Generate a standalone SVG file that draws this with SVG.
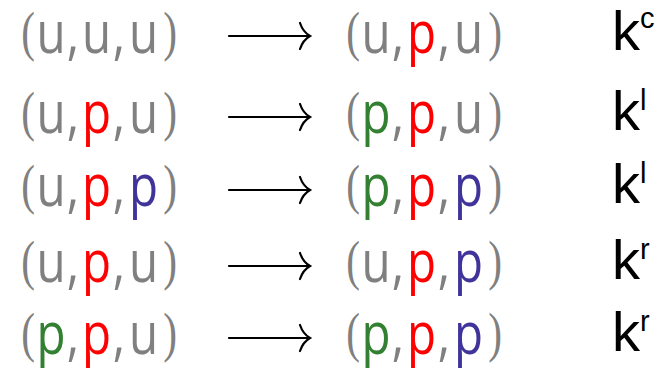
<svg xmlns="http://www.w3.org/2000/svg" width="662" height="368" viewBox="0 0 662 368">
<style>
.g{font-family:"Open Sans","DejaVu Sans",sans-serif;font-size:58px;text-anchor:middle}
.pr{font-family:"Liberation Serif","Times New Roman",serif;font-size:55px;text-anchor:middle;fill:#808080}
.u{fill:#808080}.c{fill:#808080}.pg{fill:#338033}.pr2{fill:#ff0000}.pb{fill:#403399}
.k{font-family:"Liberation Sans",Arial,sans-serif;font-size:56px;fill:#000}
.s{font-size:29px}
.arr{fill:none;stroke:#000;stroke-width:2.2;stroke-linecap:round}
</style>
<defs>
<g id="lp"><text class="pr" transform="scale(.75 1)" x="0" y="-3">(</text></g>
<g id="rp"><text class="pr" transform="scale(.75 1)" x="0" y="-3">)</text></g>
<g id="cm"><text class="g c" transform="scale(.82 1)" x="0" y="0">,</text></g>
<g id="U"><text class="g u" transform="scale(.82 1)" x="0" y="0">u</text></g>
<g id="P1"><text class="g pg" transform="scale(.82 1)" x="0" y="0">p</text></g>
<g id="P2"><text class="g pr2" transform="scale(.82 1)" x="0" y="0">p</text></g>
<g id="P3"><text class="g pb" transform="scale(.82 1)" x="0" y="0">p</text></g>
<path id="ar" class="arr" d="M229,0 H309 M300,-13 Q303,-4 310,0 Q303,4 300,13"/>
</defs>
<g id="connectors">
<use href="#ar" y="36"/>
<use href="#ar" y="117"/>
<use href="#ar" y="190"/>
<use href="#ar" y="266"/>
<use href="#ar" y="338"/>
</g>
<!-- row 1 -->
<g id="r1-left" transform="translate(0 53)">
<use href="#lp" x="28"/><use href="#U" x="51"/><use href="#cm" x="73"/><use href="#U" x="96.5"/><use href="#cm" x="119"/><use href="#U" x="143.5"/><use href="#rp" x="170"/>
</g>
<g id="r1-right" transform="translate(325 53)">
<use href="#lp" x="28"/><use href="#U" x="51"/><use href="#cm" x="73"/><use href="#P2" x="96.5"/><use href="#cm" x="119"/><use href="#U" x="143.5"/><use href="#rp" x="170"/>
</g>
<g id="r1-rate"><text class="k" x="612" y="50">k<tspan class="s" dy="-22">c</tspan></text></g>
<!-- row 2 -->
<g id="r2-left" transform="translate(0 133)">
<use href="#lp" x="28"/><use href="#U" x="51"/><use href="#cm" x="73"/><use href="#P2" x="96.5"/><use href="#cm" x="119"/><use href="#U" x="143.5"/><use href="#rp" x="170"/>
</g>
<g id="r2-right" transform="translate(325 133)">
<use href="#lp" x="28"/><use href="#P1" x="51"/><use href="#cm" x="73"/><use href="#P2" x="96.5"/><use href="#cm" x="119"/><use href="#U" x="143.5"/><use href="#rp" x="170"/>
</g>
<g id="r2-rate"><text class="k" x="612" y="130">k<tspan class="s" dy="-20">l</tspan></text></g>
<!-- row 3 -->
<g id="r3-left" transform="translate(0 206)">
<use href="#lp" x="28"/><use href="#U" x="51"/><use href="#cm" x="73"/><use href="#P2" x="96.5"/><use href="#cm" x="119"/><use href="#P3" x="143.5"/><use href="#rp" x="170"/>
</g>
<g id="r3-right" transform="translate(325 206)">
<use href="#lp" x="28"/><use href="#P1" x="51"/><use href="#cm" x="73"/><use href="#P2" x="96.5"/><use href="#cm" x="119"/><use href="#P3" x="143.5"/><use href="#rp" x="170"/>
</g>
<g id="r3-rate"><text class="k" x="612" y="203">k<tspan class="s" dy="-20">l</tspan></text></g>
<!-- row 4 -->
<g id="r4-left" transform="translate(0 282)">
<use href="#lp" x="28"/><use href="#U" x="51"/><use href="#cm" x="73"/><use href="#P2" x="96.5"/><use href="#cm" x="119"/><use href="#U" x="143.5"/><use href="#rp" x="170"/>
</g>
<g id="r4-right" transform="translate(325 282)">
<use href="#lp" x="28"/><use href="#U" x="51"/><use href="#cm" x="73"/><use href="#P2" x="96.5"/><use href="#cm" x="119"/><use href="#P3" x="143.5"/><use href="#rp" x="170"/>
</g>
<g id="r4-rate"><text class="k" x="612" y="279">k<tspan class="s" dy="-20">r</tspan></text></g>
<!-- row 5 -->
<g id="r5-left" transform="translate(0 354)">
<use href="#lp" x="28"/><use href="#P1" x="51"/><use href="#cm" x="73"/><use href="#P2" x="96.5"/><use href="#cm" x="119"/><use href="#U" x="143.5"/><use href="#rp" x="170"/>
</g>
<g id="r5-right" transform="translate(325 354)">
<use href="#lp" x="28"/><use href="#P1" x="51"/><use href="#cm" x="73"/><use href="#P2" x="96.5"/><use href="#cm" x="119"/><use href="#P3" x="143.5"/><use href="#rp" x="170"/>
</g>
<g id="r5-rate"><text class="k" x="612" y="351">k<tspan class="s" dy="-20">r</tspan></text></g>
</svg>
